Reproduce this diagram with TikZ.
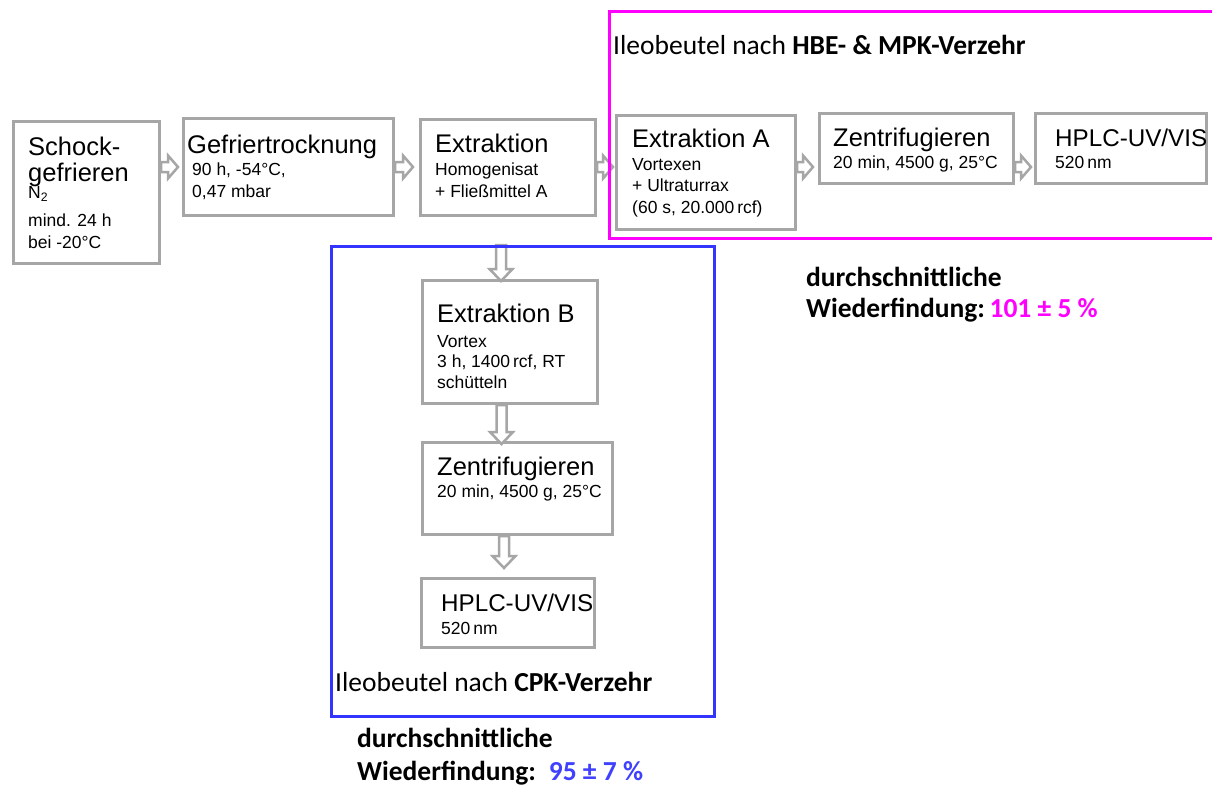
\documentclass[tikz,border=0pt]{standalone}
\usepackage{fontspec}
\setmainfont{Liberation Sans}
\newfontfamily\calfont{Carlito}
\usetikzlibrary{calc}
\definecolor{boxgray}{HTML}{A6A6A6}
\definecolor{framemag}{HTML}{FF00FF}
\definecolor{frameblue}{HTML}{3434FF}
\definecolor{textblue}{HTML}{4040FF}
\tikzset{
  stepbox/.style={draw=boxgray, line width=3pt, fill=white, rectangle,
    inner sep=0pt, anchor=north west},
  % multi-line labels are placed by the baseline of their last line
  ttl/.style={anchor=base west, inner sep=0pt, align=left,
    font=\fontsize{25.5}{27}\selectfont},
  det/.style={anchor=base west, inner sep=0pt, align=left,
    font=\fontsize{17.5}{21.5}\selectfont},
  caltext/.style={anchor=base west, inner sep=0pt, align=left,
    font=\calfont\fontsize{27.5}{32}\selectfont},
  harrow/.style={draw=boxgray, line width=2.5pt, fill=white, line join=miter,
    to path={let \p1=(\tikztostart), \p2=(\tikztotarget) in
      (\x1,\y1+5pt) -- (\x2-10pt,\y1+5pt) -- (\x2-10pt,\y1+11.5pt) -- (\x2,\y1)
      -- (\x2-10pt,\y1-11.5pt) -- (\x2-10pt,\y1-5pt) -- (\x1,\y1-5pt) -- cycle}},
  varrow/.style={draw=boxgray, line width=2.5pt, fill=white, line join=miter,
    to path={let \p1=(\tikztostart), \p2=(\tikztotarget) in
      (\x1-5pt,\y1) -- (\x1-5pt,\y2+12pt) -- (\x1-11.5pt,\y2+12pt) -- (\x1,\y2)
      -- (\x1+11.5pt,\y2+12pt) -- (\x1+5pt,\y2+12pt) -- (\x1+5pt,\y1) -- cycle}}
}
\begin{document}
\begin{tikzpicture}[x=1pt, y=-1pt]
\useasboundingbox[fill=white] (0,0) rectangle (1212,785);

% process steps
\node[stepbox, minimum width=146pt, minimum height=142pt] (schock)  at (12,120)  {};
\node[stepbox, minimum width=210pt, minimum height=97pt]  (gefrier) at (182,117) {};
\node[stepbox, minimum width=175pt, minimum height=96pt]  (extr)    at (419,118) {};
\node[stepbox, minimum width=179pt, minimum height=114pt] (extA)    at (615,114) {};
\node[stepbox, minimum width=194pt, minimum height=70pt]  (zentr)   at (818,112) {};
\node[stepbox, minimum width=171pt, minimum height=70pt]  (hplc)    at (1034,112) {};
\node[stepbox, minimum width=175pt, minimum height=123pt] (extB)    at (421,279) {};
\node[stepbox, minimum width=190pt, minimum height=92pt]  (zentrB)  at (421,441) {};
\node[stepbox, minimum width=173pt, minimum height=69pt]  (hplcB)   at (420,577) {};

% horizontal flow
\coordinate (row) at (0,167);
\draw[harrow] (schock.east |- row) to ($(gefrier.west |- row)+(-4,0)$);
\draw[harrow] (gefrier.east |- row) to ($(extr.west |- row)+(-6,0)$);
\draw[harrow] (extr.east |- row) to ($(extA.west |- row)+(-2,0)$);
\draw[harrow] (extA.east |- row) to ($(zentr.west |- row)+(-5,0)$);
\draw[harrow] (zentr.east |- row) to ($(hplc.west |- row)+(-3,0)$);

% vertical flow
\draw[varrow] ($(extB.north)+(-9,-34)$) to ($(extB.north)+(-9,2)$);
\draw[varrow] ($(extB.south)+(-8.5,0)$) to ($(zentrB.north)+(-16,3)$);
\draw[varrow] ($(zentrB.south)+(-13.5,0)$) to ($(hplcB.north)+(-4,-9)$);

% step labels
\node[ttl, font=\fontsize{25.5}{26}\selectfont] (schockT) at (28,181) {Schock-\\gefrieren};
\node[det] (schockD) at (28,248) {N\textsubscript{2}\\[6.5pt]mind. 24 h\\bei -20°C};
\node[ttl] (gefrierT) at (187,153) {Gefriertrocknung};
\node[det] (gefrierD) at (192,197) {90 h, -54°C,\\0,47 mbar};
\node[ttl] (extrT) at (435,152) {Extraktion};
\node[det] (extrD) at (435,197) {Homogenisat\\+ Fließmittel A};
\node[ttl] (extAT) at (632,147) {Extraktion A};
\node[det] (extAD) at (632,213) {Vortexen\\+ Ultraturrax\\(60 s, 20.000\,rcf)};
\node[ttl] (zentrT) at (833,146) {Zentrifugieren};
\node[det] (zentrD) at (833,168) {20 min, 4500 g, 25°C};
\node[ttl, font=\fontsize{24.2}{27}\selectfont] (hplcT) at (1055,146) {HPLC-UV/VIS};
\node[det] (hplcD) at (1055,168) {520\,nm};
\node[ttl] (extBT) at (437,322) {Extraktion B};
\node[det, font=\fontsize{17.5}{20.5}\selectfont] (extBD) at (437,388) {Vortex\\3 h, 1400\,rcf, RT\\schütteln};
\node[ttl] (zentrBT) at (437,475) {Zentrifugieren};
\node[det] (zentrBD) at (437,497) {20 min, 4500 g, 25°C};
\node[ttl, font=\fontsize{24.2}{27}\selectfont] (hplcBT) at (441,611) {HPLC-UV/VIS};
\node[det] (hplcBD) at (441,634) {520\,nm};

% group frames
\draw[framemag, line width=3pt] (1216,11) -- (609,11) -- (609,238) -- (1216,238);
\node[draw=frameblue, line width=3pt, inner sep=0pt, minimum width=383pt,
  minimum height=470pt, anchor=north west] (cpkframe) at (330,245) {};

% group captions
\node[caltext] (magT) at (613,54) {Ileobeutel nach \textbf{HBE- \& MPK-Verzehr}};
\node[caltext] (blueT) at (335,691) {Ileobeutel nach \textbf{CPK-Verzehr}};
\node[caltext, font=\calfont\bfseries\fontsize{27.5}{31}\selectfont] (magR) at (806,317)
  {durchschnittliche\\Wiederfindung:\,{\color{framemag}101 ± 5 \%}};
\node[caltext, font=\calfont\bfseries\fontsize{27.5}{33}\selectfont] (blueR) at (357,780)
  {durchschnittliche\\Wiederfindung: \,{\color{textblue}95 ± 7 \%}};
\end{tikzpicture}
\end{document}
